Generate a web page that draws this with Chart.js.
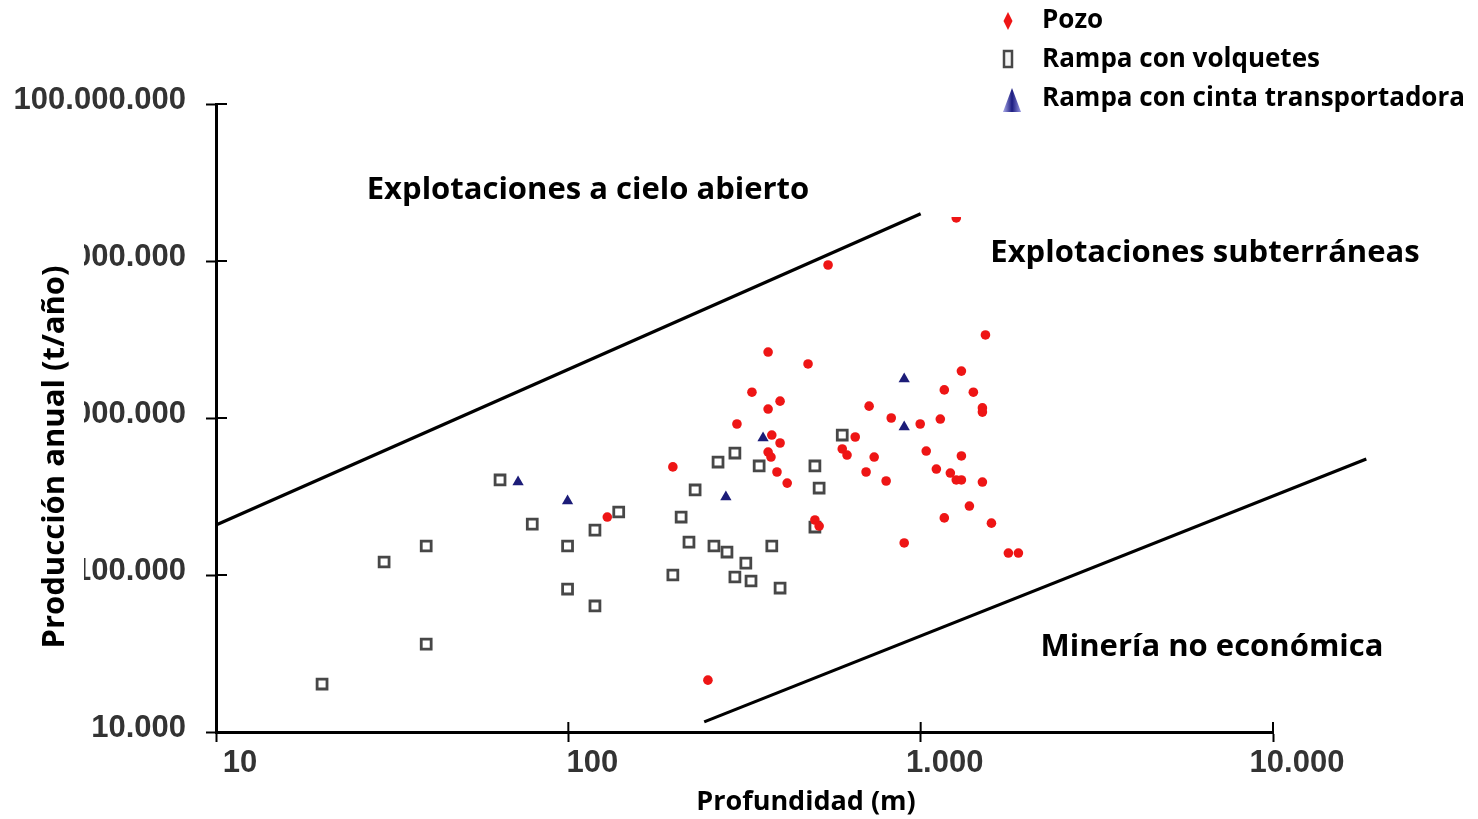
<!DOCTYPE html>
<html>
<head>
<meta charset="utf-8">
<script src="https://cdn.jsdelivr.net/npm/chart.js@4.4.0/dist/chart.umd.min.js"></script>
<style>
  html, body { margin: 0; padding: 0; background: #fff; }
  #wrap { width: 1478px; height: 819px; position: relative; }
</style>
</head>
<body>
<div id="wrap"><canvas id="c"></canvas></div>
<script>
// Axis tick values (log scales)
const depthTicks = [10, 100, 1000, 10000];
const productionTicks = [10000, 100000, 1000000, 10000000, 100000000];

// Pozo (shaft)
const pozoDepth = [129, 198, 249, 301, 332, 369, 399, 369, 378, 399, 369, 376, 391, 418, 479, 501, 515, 546,
  599, 618, 652, 714, 738, 700, 798, 825, 898, 997, 1137, 1167, 1037, 1108, 1167, 1262, 1527, 1305, 1411,
  1497, 1497, 1305, 1214, 1262, 1305, 1497, 1375, 1588, 1774, 1894];
const pozoProd = [234000, 488000, 21400, 916000, 1460000, 2630000, 1280000, 1140000, 779000, 693000, 607000,
  564000, 453000, 385000, 2210000, 224000, 205000, 9430000, 635000, 581000, 757000, 1190000, 564000, 453000,
  397000, 1000000, 160000, 916000, 985000, 1510000, 616000, 473000, 231000, 18800000, 3380000, 1990000,
  1460000, 1160000, 1090000, 573000, 446000, 403000, 403000, 391000, 275000, 214000, 138000, 138000];

// Rampa con volquetes (truck ramp)
const volqDepth = [20, 30, 39.5, 39.5, 64, 79, 99.5, 99.5, 119, 119, 139, 198, 209, 220, 229, 259, 266, 282,
  297, 297, 319, 330, 348, 378, 399, 501, 515, 501, 599];
const volqProd = [20200, 121000, 153000, 36300, 403000, 211000, 153000, 81400, 193000, 63500, 252000, 100000,
  234000, 162000, 348000, 153000, 524000, 140000, 598000, 97100, 119000, 91600, 495000, 153000, 82600,
  495000, 358000, 202000, 779000];

// Rampa con cinta transportadora (conveyor ramp)
const cintaDepth = [72, 99.5, 280, 357, 898, 898];
const cintaProd = [391000, 296000, 314000, 746000, 1770000, 876000];

// Boundary lines
const openPitLimitDepth = [10, 1000];
const openPitLimitProd = [208000, 20000000];
const economicLimitDepth = [243, 18400];
const economicLimitProd = [11600, 548000];

const seriesLabels = ['Pozo', 'Rampa con volquetes', 'Rampa con cinta transportadora'];

const toPoints = (xs, ys) => xs.map((x, i) => ({ x: x, y: ys[i] }));
const dotted = v => String(v).replace(/\B(?=(\d{3})+(?!\d))/g, '.');

const RED = '#ee1515';
const GREY = '#474747';
const NAVY = '#1c1c78';

const FAMILY = '"Open Sans"';

const overlay = {
  id: 'overlay',
  afterDraw(chart) {
    const { ctx, scales: { x, y }, chartArea: a } = chart;
    ctx.save();

    // inner halves of the axis tick crosses
    ctx.strokeStyle = '#000';
    ctx.lineWidth = 2;
    depthTicks.forEach(v => {
      const px = x.getPixelForValue(v);
      ctx.beginPath(); ctx.moveTo(px, a.bottom); ctx.lineTo(px, a.bottom - 10); ctx.stroke();
    });
    productionTicks.forEach(v => {
      const py = y.getPixelForValue(v);
      ctx.beginPath(); ctx.moveTo(a.left, py); ctx.lineTo(a.left + 11, py); ctx.stroke();
    });

    // white text boxes
    ctx.fillStyle = '#fff';
    ctx.fillRect(0, 232, 84, 430);
    ctx.fillRect(924, 190, 520, 27);

    // y axis title
    ctx.fillStyle = '#000';
    ctx.font = 'bold 31px ' + FAMILY;
    ctx.textAlign = 'center';
    ctx.textBaseline = 'middle';
    ctx.save();
    ctx.translate(55, 457);
    ctx.rotate(-Math.PI / 2);
    ctx.fillText('Producción anual (t/año)', 0, 0);
    ctx.restore();

    // x axis title
    ctx.font = 'bold 27px ' + FAMILY;
    ctx.fillText('Profundidad (m)', 806, 802);

    // region labels
    ctx.font = 'bold 31px ' + FAMILY;
    ctx.fillText('Explotaciones a cielo abierto', 588, 190);
    ctx.fillText('Explotaciones subterráneas', 1205, 253);
    ctx.fillText('Minería no económica', 1212, 647);

    // legend
    ctx.textAlign = 'left';
    ctx.font = 'bold 26px ' + FAMILY;
    const rows = [21, 60, 99];
    rows.forEach((ry, i) => ctx.fillText(seriesLabels[i], 1042, ry));

    // diamond
    ctx.fillStyle = RED;
    ctx.beginPath();
    ctx.moveTo(1008, 12); ctx.lineTo(1012.5, 21); ctx.lineTo(1008, 30); ctx.lineTo(1003.5, 21);
    ctx.closePath(); ctx.fill();
    // narrow rectangle
    ctx.strokeStyle = GREY; ctx.lineWidth = 2.5; ctx.fillStyle = '#f4f4f4';
    ctx.beginPath(); ctx.rect(1004, 51, 8, 16); ctx.fill(); ctx.stroke();
    // triangle
    const g = ctx.createLinearGradient(1004, 0, 1020, 0);
    g.addColorStop(0, '#9c9ce0'); g.addColorStop(0.5, '#1c1c80'); g.addColorStop(1, '#8a8ad8');
    ctx.fillStyle = g;
    ctx.beginPath(); ctx.moveTo(1012, 88); ctx.lineTo(1021, 112); ctx.lineTo(1003, 112); ctx.closePath(); ctx.fill();

    ctx.restore();
  }
};

new Chart(document.getElementById('c'), {
  type: 'scatter',
  data: {
    datasets: [
      {
        label: seriesLabels[0],
        data: toPoints(pozoDepth, pozoProd),
        pointStyle: 'circle', pointRadius: 4.8, pointHoverRadius: 4.8,
        backgroundColor: RED, borderColor: RED, borderWidth: 0
      },
      {
        label: seriesLabels[1],
        data: toPoints(volqDepth, volqProd),
        pointStyle: 'rect', pointRadius: 7, pointHoverRadius: 7,
        backgroundColor: '#fff', borderColor: GREY, borderWidth: 2.8
      },
      {
        label: seriesLabels[2],
        data: toPoints(cintaDepth, cintaProd),
        pointStyle: 'triangle', pointRadius: 6.5, pointHoverRadius: 6.5,
        backgroundColor: NAVY, borderColor: NAVY, borderWidth: 0
      },
      {
        label: 'openPitLimit',
        data: toPoints(openPitLimitDepth, openPitLimitProd),
        showLine: true, pointRadius: 0, borderColor: '#000', borderWidth: 3.2, clip: false
      },
      {
        label: 'economicLimit',
        data: toPoints(economicLimitDepth, economicLimitProd),
        showLine: true, pointRadius: 0, borderColor: '#000', borderWidth: 3.2, clip: false
      }
    ]
  },
  options: {
    responsive: true,
    maintainAspectRatio: false,
    animation: false,
    events: [],
    layout: { padding: { left: 0, top: 104, right: 205, bottom: 0 } },
    plugins: { legend: { display: false }, tooltip: { enabled: false } },
    scales: {
      x: {
        type: 'logarithmic',
        min: 10, max: 10000,
        afterFit: s => { s.height = 87; },
        afterBuildTicks: s => { s.ticks = depthTicks.map(v => ({ value: v })); },
        border: { display: true, color: '#000', width: 3 },
        grid: { display: true, drawOnChartArea: false, drawTicks: true, tickLength: 10, tickWidth: 2, tickColor: '#000' },
        ticks: {
          callback: v => dotted(v),
          font: { family: 'Liberation Sans', weight: 'bold', size: 31 },
          color: '#333', padding: 3, labelOffset: 24, maxRotation: 0, autoSkip: false
        }
      },
      y: {
        type: 'logarithmic',
        min: 10000, max: 100000000,
        afterFit: s => { s.width = 216; },
        afterBuildTicks: s => { s.ticks = productionTicks.map(v => ({ value: v })); },
        border: { display: true, color: '#000', width: 3 },
        grid: { display: true, drawOnChartArea: false, drawTicks: true, tickLength: 10, tickWidth: 2, tickColor: '#000' },
        ticks: {
          callback: v => dotted(v),
          font: { family: 'Liberation Sans', weight: 'bold', size: 31 },
          color: '#333', padding: 20, labelOffset: -4, autoSkip: false
        }
      }
    }
  },
  plugins: [overlay]
});
</script>
</body>
</html>
